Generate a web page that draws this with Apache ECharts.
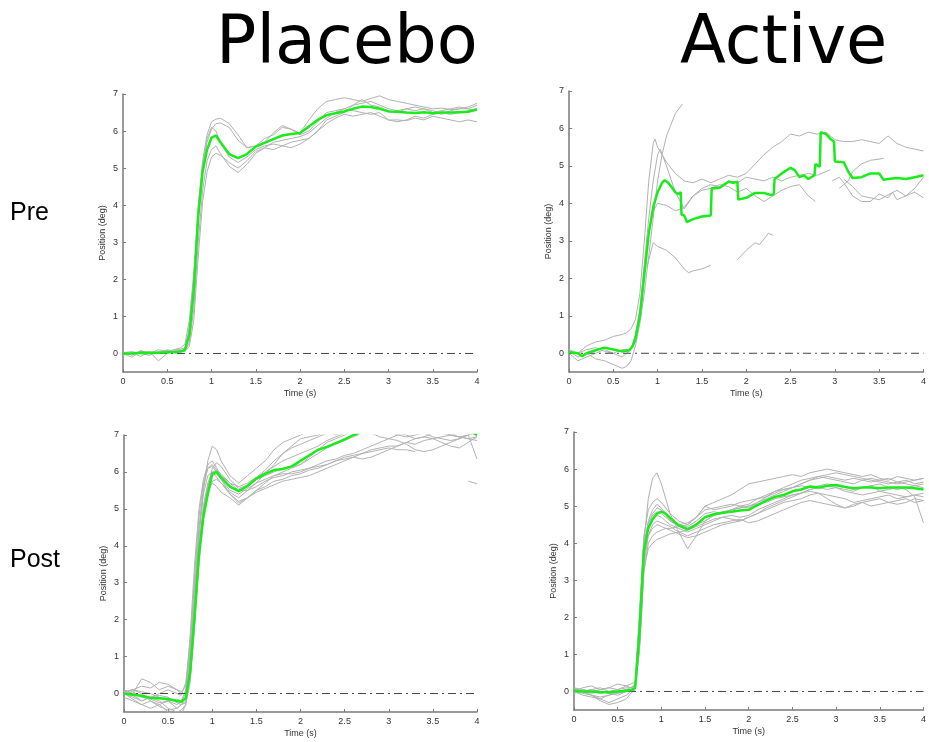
<!DOCTYPE html>
<html><head><meta charset="utf-8">
<script src="https://cdn.jsdelivr.net/npm/echarts@6/dist/echarts.min.js"></script>
<style>html,body{margin:0;padding:0;background:#fff}#c{width:929px;height:742px}</style>
</head><body><div id="c"></div>
<script>
// ---- shared axes ----
const TIME = [0,0.1,0.2,0.3,0.4,0.5,0.6,0.65, 0.7,0.75,0.8,0.85,0.9,0.95,1.0,1.05,1.1, 1.2,1.3,1.4,1.5,1.6,1.7,1.8,1.9,2.0, 2.1,2.2,2.3,2.4,2.5,2.6,2.7,2.8,2.9,3.0, 3.1,3.2,3.3,3.4,3.5,3.6,3.7,3.8,3.9,4.0];
const Y_TICKS = [0,1,2,3,4,5,6,7];
const X_TICKS = [0,0.5,1,1.5,2,2.5,3,3.5,4];
const ZERO_LINE_X = [0,4];
const ZERO_LINE_Y = [0,0];
const COLUMN_TITLES = ['Placebo','Active'];
const ROW_TITLES = ['Pre','Post'];

// ---- Placebo / Pre ----
const PLACEBO_PRE_MEAN = [0.0,0.0,0.02,0.01,0.02,0.03,0.04,0.05, 0.1,0.5,1.7,3.7,4.9,5.5,5.82,5.88,5.7, 5.38,5.27,5.38,5.58,5.68,5.78,5.88,5.92,5.95, 6.12,6.3,6.43,6.48,6.53,6.6,6.66,6.65,6.6,6.53, 6.52,6.5,6.49,6.51,6.48,6.5,6.5,6.51,6.52,6.58];
const PLACEBO_PRE_TRIALS = [
 [0.05,-0.05,0.08,0.0,0.1,0.05,0.12,0.15, 0.25,0.9,2.2,4.0,5.2,5.9,6.25,6.32,6.35, 6.2,5.9,5.55,5.6,5.8,5.9,6.1,6.05,5.95, 6.3,6.6,6.8,6.85,6.9,6.85,6.8,6.88,6.95,6.85, 6.8,6.75,6.7,6.65,6.6,6.62,6.58,6.6,6.65,6.75],
 [-0.05,0.02,-0.08,0.05,-0.2,0.0,0.08,0.05, 0.1,0.6,1.9,3.9,5.1,5.8,6.1,6.0,5.7, 5.3,5.15,5.3,5.5,5.6,5.65,5.6,5.55,5.65, 5.8,6.0,6.2,6.35,6.45,6.4,6.45,6.5,6.4,6.3, 6.3,6.28,6.35,6.3,6.4,6.35,6.3,6.25,6.3,6.25],
 [0.0,-0.1,0.05,0.02,0.0,0.1,0.05,0.08, 0.05,0.3,1.2,3.0,4.4,5.2,5.5,5.6,5.4, 5.05,4.88,5.1,5.4,5.55,5.7,5.75,5.8,5.85, 5.95,6.15,6.35,6.5,6.6,6.55,6.5,6.45,6.5,6.3, 6.25,6.3,6.4,6.35,6.45,6.5,6.45,6.5,6.55,6.6],
 [0.02,0.05,0.0,-0.05,0.05,0.0,0.1,0.12, 0.15,0.7,2.0,3.8,5.0,5.7,6.05,6.2,6.22, 6.1,5.75,5.55,5.6,5.7,5.95,6.15,6.05,5.9, 6.0,6.25,6.5,6.55,6.6,6.7,6.85,6.7,6.65,6.55, 6.5,6.6,6.55,6.6,6.55,6.45,6.55,6.6,6.6,6.55],
 [-0.03,0.0,0.03,0.05,0.02,0.08,0.0,0.1, 0.05,0.2,0.9,2.6,4.1,4.9,5.3,5.4,5.35, 5.15,5.0,5.2,5.45,5.55,5.5,5.6,5.7,5.75, 5.8,6.0,6.3,6.4,6.5,6.7,6.75,6.8,6.7,6.6, 6.55,6.6,6.65,6.6,6.5,6.55,6.6,6.65,6.6,6.7]
];

// ---- Active / Pre (mean is stepwise, trials are fragmentary) ----
const ACTIVE_PRE_MEAN_T = [0,0.1,0.15,0.2,0.3,0.4,0.5,0.6,0.68,0.72,0.75,0.8,0.85,0.9,0.95,1.0,1.05,1.08,1.12,1.17,1.2,1.23,1.26,1.27,1.3,1.33,1.4,1.5,1.6,1.61,1.7,1.8,1.85,1.9,1.91,2.0,2.1,2.2,2.28,2.31,2.32,2.4,2.5,2.55,2.6,2.65,2.7,2.77,2.78,2.83,2.84,2.9,2.95,2.99,3.0,3.1,3.15,3.2,3.3,3.4,3.5,3.55,3.6,3.7,3.8,3.9,4.0];
const ACTIVE_PRE_MEAN_V = [0.03,0.0,-0.08,0.0,0.08,0.15,0.1,0.05,0.08,0.2,0.4,1.0,2.1,3.2,3.9,4.3,4.55,4.62,4.55,4.4,4.3,4.25,4.3,3.7,3.68,3.5,3.58,3.65,3.68,4.4,4.42,4.58,4.55,4.58,4.1,4.15,4.28,4.28,4.22,4.25,4.65,4.8,4.95,4.88,4.7,4.75,4.65,4.75,5.05,4.98,5.9,5.85,5.72,5.65,5.12,5.1,4.85,4.68,4.7,4.8,4.8,4.63,4.65,4.68,4.65,4.7,4.75];
const ACTIVE_PRE_TRIALS = [
 [[0,0.05],[0.1,-0.1],[0.2,0.0],[0.3,-0.15],[0.4,-0.2],[0.5,-0.3],[0.6,-0.4],[0.65,-0.35],[0.7,-0.2],[0.75,0.2],[0.8,0.8],[0.85,1.6],[0.9,2.6],[0.95,3.6],[1.0,4.6],[1.05,5.3],[1.1,5.8],[1.2,6.4],[1.28,6.65]],
 [[0,0.05],[0.1,0.0],[0.2,0.2],[0.3,0.3],[0.4,0.35],[0.5,0.45],[0.6,0.5],[0.65,0.55],[0.7,0.65],[0.75,0.9],[0.8,1.6],[0.85,3.0],[0.9,4.6],[0.95,5.6],[0.97,5.72],[1.0,5.5],[1.05,5.3],[1.1,5.1],[1.2,4.8],[1.3,4.6],[1.4,4.55],[1.5,4.65],[1.6,4.55],[1.7,4.65],[1.8,4.75],[1.9,4.7],[2.0,4.8],[2.1,5.05],[2.2,5.3],[2.3,5.5],[2.4,5.65],[2.5,5.85],[2.6,5.8],[2.7,5.9],[2.8,5.85],[2.9,5.9],[3.0,5.7],[3.1,5.65],[3.2,5.65],[3.3,5.7],[3.4,5.65],[3.5,5.6],[3.6,5.8],[3.7,5.6],[3.8,5.5],[3.9,5.45],[4.0,5.4]],
 [[0,0.0],[0.1,-0.2],[0.2,-0.1],[0.3,0.0],[0.4,0.1],[0.5,0.0],[0.6,-0.1],[0.7,0.1],[0.75,0.5],[0.8,1.2],[0.85,2.4],[0.9,3.6],[0.95,4.6],[1.0,5.3],[1.03,5.45],[1.1,5.0],[1.2,4.3],[1.3,3.85],[1.4,4.2],[1.5,4.35],[1.6,4.4],[1.7,4.5],[1.8,4.45],[1.9,4.3],[2.0,4.4],[2.1,4.2],[2.2,4.05],[2.3,4.2],[2.4,4.35],[2.5,4.45],[2.6,4.5],[2.7,4.2],[2.78,4.05]],
 [[0,0.1],[0.1,0.0],[0.2,0.1],[0.3,0.15],[0.4,0.05],[0.5,0.0],[0.6,0.1],[0.7,0.1],[0.75,0.3],[0.8,1.0],[0.85,2.2],[0.9,3.2],[0.95,3.8],[1.0,4.0],[1.1,3.95],[1.2,3.8],[1.3,3.9],[1.4,4.2],[1.5,4.4],[1.6,4.5],[1.7,4.45],[1.8,4.6],[1.9,4.55],[2.0,4.7],[2.1,4.65],[2.2,4.6],[2.3,4.7],[2.4,4.6],[2.5,4.7],[2.6,4.75],[2.7,4.8],[2.8,4.75],[2.9,4.85],[2.95,4.9]],
 [[0.88,2.3],[0.95,2.95],[1.0,2.85],[1.1,2.75],[1.2,2.55],[1.3,2.25],[1.35,2.15],[1.4,2.2],[1.5,2.25],[1.6,2.35]],
 [[1.9,2.5],[2.0,2.75],[2.1,2.95],[2.15,2.9],[2.2,3.05],[2.25,3.2],[2.3,3.15]],
 [[2.97,4.6],[3.05,4.7],[3.1,4.55],[3.2,4.2],[3.3,4.05],[3.4,4.05],[3.5,4.25],[3.6,4.15],[3.65,4.3],[3.7,4.1],[3.8,4.2],[3.9,4.3],[4.0,4.15]],
 [[3.05,4.4],[3.15,4.6],[3.2,4.85],[3.3,5.05],[3.4,5.15],[3.55,5.2]],
 [[3.1,4.65],[3.2,4.45],[3.3,4.2],[3.5,4.1],[3.7,4.35],[3.8,4.2],[3.9,4.4],[4.0,4.7]]
];

// ---- Placebo / Post ----
const PLACEBO_POST_MEAN = [0.0,-0.03,-0.06,-0.12,-0.13,-0.15,-0.2,-0.22, -0.12,0.6,2.1,3.8,4.8,5.4,5.95,6.0,5.85, 5.6,5.48,5.62,5.82,5.95,6.05,6.08,6.15,6.3, 6.45,6.6,6.68,6.78,6.88,7.0,7.1,7.15,7.2,7.25, 7.25,7.3,7.25,7.2,7.25,7.3,7.25,7.2,7.15,7.0];
const PLACEBO_POST_TRIALS = [
 [0.1,0.0,0.4,0.3,0.1,0.2,0.1,0.0, 0.0,0.8,2.5,4.2,5.5,6.3,6.7,6.6,6.3, 5.9,5.7,5.9,6.1,6.3,6.6,6.8,6.9,7.0, 7.1,7.2,7.3,7.3,7.4,7.3,7.4,7.5,7.4,7.3, 7.2,7.3,7.4,7.3,7.2,7.3,7.4,7.3,7.2,7.3],
 [0.0,-0.1,-0.2,-0.1,0.0,0.1,0.0,-0.05, 0.3,1.4,3.0,4.5,5.6,6.1,6.2,6.05,5.8, 5.5,5.4,5.55,5.7,5.8,5.9,5.95,5.95,6.0, 6.1,6.2,6.3,6.35,6.45,6.5,6.6,6.7,6.8,6.9, 7.0,7.1,7.05,7.1,7.2,7.1,7.0,7.05,7.1,7.0],
 [-0.1,-0.2,-0.3,-0.4,-0.3,-0.5,-0.6,-0.55, -0.3,0.6,2.3,3.9,5.0,5.6,5.9,5.95,5.8, 5.4,5.15,5.3,5.5,5.6,5.75,5.8,5.9,5.95, 6.05,6.1,6.2,6.3,6.4,6.45,6.5,6.6,6.65,6.7, 6.7,6.8,6.75,6.85,6.9,6.95,7.0,6.95,6.9,6.95],
 [0.05,0.1,0.0,-0.2,-0.3,-0.2,-0.4,-0.3, -0.1,1.0,2.8,4.4,5.4,5.9,6.0,5.85,5.7, 5.45,5.3,5.5,5.7,5.95,6.2,6.5,6.7,6.9, 6.95,7.0,7.1,7.0,7.1,7.2,7.1,7.05,6.95,6.9, 6.85,6.75,6.6,6.55,6.6,6.7,6.8,6.9,7.0,6.35],
 [0.0,0.05,-0.1,-0.15,-0.25,-0.2,-0.15,-0.2, 0.0,1.2,3.2,4.8,5.7,6.1,6.15,6.0,5.85, 5.6,5.5,5.6,5.8,5.9,6.0,6.1,6.15,6.2, 6.35,6.5,6.65,6.75,6.85,6.95,7.05,7.1,7.2,7.2, 7.3,7.3,7.2,7.25,7.3,7.3,7.2,7.3,7.3,7.4],
 [0.0,-0.05,-0.2,-0.1,-0.05,-0.1,-0.25,-0.3, -0.2,0.4,1.8,3.5,4.7,5.4,5.75,5.8,5.7, 5.4,5.2,5.3,5.45,5.55,5.65,5.75,5.8,5.85, 5.9,6.0,6.1,6.2,6.3,6.4,6.5,6.55,6.6,6.65, 6.6,6.6,6.55,null,null,null,null,null,5.75,5.68],
 [0.0,0.1,0.05,0.0,-0.1,-0.2,-0.3,-0.2, 0.1,1.6,3.5,5.0,5.8,6.2,6.3,6.1,5.9, 5.7,5.6,5.7,5.85,6.0,6.15,6.3,6.4,6.5, 6.6,6.7,6.85,6.95,7.05,7.1,7.2,7.2,7.25,7.3, 7.2,7.25,7.3,7.2,7.1,7.05,7.0,6.95,6.9,6.85],
 [0.0,0.0,-0.05,-0.1,-0.2,-0.4,-0.5,-0.45, -0.3,0.3,1.9,3.8,5.1,5.7,6.0,6.05,5.95, 5.7,5.5,5.5,5.6,5.75,5.85,5.9,6.0,6.05, 6.1,6.15,6.2,6.3,6.35,6.4,6.35,6.4,6.5,6.6, 6.7,6.8,6.9,6.95,6.9,6.8,6.7,6.65,6.8,6.95],
 [0.05,0.1,0.2,0.15,0.3,0.25,0.1,0.05, 0.2,1.1,2.6,4.0,5.0,5.5,5.7,5.6,5.45, 5.3,5.1,5.3,5.5,5.7,5.9,6.0,6.1,6.2, 6.4,6.6,6.8,6.9,7.0,7.1,7.2,7.15,7.05,7.1, 7.05,7.0,6.9,6.95,7.05,7.1,7.0,6.95,7.0,7.05],
 [0.0,-0.15,-0.3,-0.2,-0.35,-0.45,-0.4,-0.3, -0.25,0.5,2.0,3.6,4.9,5.6,6.1,6.25,6.15, 5.8,5.55,5.65,5.85,6.05,6.3,6.5,6.65,6.75, 6.85,6.95,7.05,7.1,7.05,7.15,7.2,7.3,7.2,7.1, 7.0,6.95,7.0,7.05,6.95,6.9,6.85,6.9,7.0,7.1]
];

// ---- Active / Post ----
const ACTIVE_POST_MEAN = [0.02,0.0,0.0,-0.02,-0.02,0.0,0.02,0.03, 0.1,1.6,3.8,4.4,4.65,4.8,4.85,4.8,4.68, 4.48,4.38,4.5,4.7,4.78,4.82,4.85,4.88,4.9, 5.03,5.15,5.25,5.3,5.4,5.45,5.53,5.5,5.55,5.57, 5.52,5.48,5.5,5.5,5.48,5.5,5.5,5.5,5.48,5.45];
const ACTIVE_POST_TRIALS = [
 [0.1,0.0,-0.1,-0.2,-0.3,-0.2,-0.1,0.0, 0.1,1.8,4.0,5.2,5.75,5.9,5.6,5.2,4.8, 4.3,3.85,4.2,4.6,4.75,4.8,4.9,4.95,5.0, 5.1,5.2,5.3,5.4,5.5,5.55,5.5,5.55,5.6,5.55, 5.5,5.45,5.5,5.55,5.4,5.45,5.5,5.45,5.25,4.55],
 [0.0,0.1,0.15,0.05,0.1,0.2,0.15,0.1, 0.2,2.2,4.2,4.9,5.1,5.2,5.1,4.95,4.8, 4.6,4.5,4.7,5.0,5.1,5.2,5.3,5.45,5.6, 5.65,5.7,5.75,5.8,5.85,5.8,5.9,5.95,6.0,5.95, 5.9,5.85,5.8,5.85,5.75,5.7,5.8,5.75,5.7,5.75],
 [0.05,0.0,0.05,0.1,0.0,-0.05,0.05,0.1, 0.15,1.5,3.8,4.6,4.9,5.05,4.95,4.8,4.65, 4.5,4.45,4.6,4.8,4.85,4.8,4.9,5.0,5.05, 5.2,5.3,5.4,5.45,5.5,5.6,5.7,5.75,5.8,5.75, 5.7,5.75,5.7,5.65,5.7,5.75,5.65,5.7,5.6,5.65],
 [0.0,-0.05,-0.1,-0.25,-0.35,-0.3,-0.2,-0.05, 0.05,1.2,3.5,4.5,4.8,4.95,4.9,4.75,4.6, 4.45,4.35,4.45,4.55,4.65,4.7,4.75,4.7,4.75, 4.9,5.0,5.1,5.2,5.3,5.35,5.45,5.5,5.45,5.5, 5.45,5.4,5.5,5.55,5.6,5.5,5.45,5.5,5.55,5.5],
 [0.0,0.05,0.0,0.05,0.1,0.05,0.15,0.2, 0.25,2.0,4.0,4.55,4.75,4.85,4.8,4.7,4.6, 4.5,4.55,4.7,5.0,4.9,4.95,5.0,5.1,5.15, 5.2,5.25,5.35,5.45,5.5,5.6,5.7,5.8,5.85,5.9, 5.85,5.8,5.75,5.7,5.65,5.6,5.65,5.6,5.55,5.6],
 [0.05,0.0,-0.05,0.0,-0.05,-0.1,0.0,0.05, 0.1,1.6,3.6,4.4,4.65,4.75,4.7,4.6,4.5, 4.4,4.3,4.4,4.5,4.6,4.7,4.65,4.6,4.7, 4.8,4.9,5.0,5.1,5.15,5.2,5.3,5.35,5.3,5.25, 5.2,5.1,5.15,5.2,5.25,5.3,5.2,5.25,5.3,5.25],
 [-0.05,0.0,-0.1,-0.15,-0.1,-0.05,0.0,0.05, 0.1,1.3,3.4,4.2,4.5,4.6,4.55,4.5,4.45, 4.3,4.2,4.3,4.4,4.5,4.55,4.6,4.65,4.55, 4.6,4.7,4.8,4.9,5.0,5.1,5.15,5.1,5.05,5.0, 4.95,5.05,5.1,5.0,5.05,5.1,5.15,5.2,5.1,5.15],
 [0.1,0.05,0.0,-0.05,0.0,0.05,0.1,0.1, 0.15,1.7,3.7,4.2,4.4,4.5,4.45,4.4,4.35, 4.25,4.15,4.2,4.3,4.4,4.5,4.55,4.6,4.7, 4.8,4.95,5.05,5.15,5.25,5.35,5.45,5.5,5.55,5.5, 5.4,5.35,5.3,5.35,5.4,5.35,5.3,5.25,5.3,5.35],
 [0.0,-0.1,-0.15,-0.2,-0.1,0.0,0.05,0.0, 0.05,1.1,3.2,4.0,4.2,4.3,4.35,4.4,4.4, 4.45,4.5,4.7,4.9,4.95,5.0,5.05,5.0,4.95, 5.1,5.25,5.4,5.5,5.6,5.7,5.75,5.8,5.75,5.7, 5.65,5.6,5.7,5.75,5.7,5.65,5.6,5.65,5.7,5.75],
 [0.05,0.0,0.05,0.0,-0.05,0.0,0.05,0.05, 0.1,1.2,3.3,3.85,4.0,4.1,4.15,4.2,4.25, 4.3,4.35,4.5,4.6,4.75,4.85,4.9,4.95,5.0, 5.05,5.1,5.2,5.25,5.3,5.35,5.4,5.35,5.2,5.05, 4.95,5.0,5.1,5.15,5.2,5.1,5.05,5.1,5.2,5.15]
];

// ---- build ----
const pair = (ts, vs) => ts.map((t, i) => [t, vs[i]]);
const GRIDS = [
  {left:123, top:94, width:354, height:278},
  {left:569, top:91, width:357, height:281},
  {left:124, top:435, width:353, height:277},
  {left:574, top:432, width:353, height:278}
];
const panels = [
  {trials: PLACEBO_PRE_TRIALS.map(v => pair(TIME, v)), mean: pair(TIME, PLACEBO_PRE_MEAN)},
  {trials: ACTIVE_PRE_TRIALS, mean: pair(ACTIVE_PRE_MEAN_T, ACTIVE_PRE_MEAN_V)},
  {trials: PLACEBO_POST_TRIALS.map(v => pair(TIME, v)), mean: pair(TIME, PLACEBO_POST_MEAN)},
  {trials: ACTIVE_POST_TRIALS.map(v => pair(TIME, v)), mean: pair(TIME, ACTIVE_POST_MEAN)}
];
const AX = '#7a7a7a', TXT = '#333';
const FONT = 'Liberation Sans';
const xAxis = [], yAxis = [], series = [];
GRIDS.forEach((g, k) => {
  xAxis.push({type:'value', gridIndex:k, min:0, max:4,
    axisLine:{show:true, onZero:false, lineStyle:{color:AX, width:1.5}},
    axisTick:{show:true, inside:true, length:3, customValues:X_TICKS, lineStyle:{color:AX}},
    axisLabel:{customValues:X_TICKS, fontSize:9, color:TXT, fontFamily:FONT, margin:5},
    splitLine:{show:false},
    name:'Time (s)', nameLocation:'middle', nameGap:17,
    nameTextStyle:{fontSize:9, color:TXT, fontFamily:FONT}});
  yAxis.push({type:'value', gridIndex:k, min:-0.5, max:7,
    axisLine:{show:true, lineStyle:{color:AX, width:1.5}},
    axisTick:{show:true, inside:true, length:3, customValues:Y_TICKS, lineStyle:{color:AX}},
    axisLabel:{customValues:Y_TICKS, fontSize:9, color:TXT, fontFamily:FONT, margin:5},
    splitLine:{show:false},
    name:'Position (deg)', nameLocation:'middle', nameGap:16,
    nameTextStyle:{fontSize:9, color:TXT, fontFamily:FONT}});
  panels[k].trials.forEach(d => series.push({type:'line', xAxisIndex:k, yAxisIndex:k, data:d,
    symbol:'none', connectNulls:false, silent:true, z:2,
    lineStyle:{color:'#b2b2b2', width:1}}));
  series.push({type:'line', xAxisIndex:k, yAxisIndex:k, data:pair(ZERO_LINE_X, ZERO_LINE_Y),
    symbol:'none', silent:true, z:3, lineStyle:{color:'#444', width:1, type:[8,4,2,4]}});
  series.push({type:'line', xAxisIndex:k, yAxisIndex:k, data:panels[k].mean,
    symbol:'none', silent:true, z:4, lineStyle:{color:'#1aeb1a', width:2.5}});
});

const chart = echarts.init(document.getElementById('c'), null, {renderer:'canvas'});
chart.setOption({
  animation:false,
  backgroundColor:'#fff',
  title:[
    {text:COLUMN_TITLES[0], left:216, top:12, padding:0, textStyle:{fontFamily:'DejaVu Sans', fontSize:67, fontWeight:'normal', color:'#000'}},
    {text:COLUMN_TITLES[1], left:680, top:12, padding:0, textStyle:{fontFamily:'DejaVu Sans', fontSize:67, fontWeight:'normal', color:'#000'}},
    {text:ROW_TITLES[0], left:10, top:201, padding:0, textStyle:{fontFamily:FONT, fontSize:25, fontWeight:'normal', color:'#000'}},
    {text:ROW_TITLES[1], left:10, top:548, padding:0, textStyle:{fontFamily:FONT, fontSize:25, fontWeight:'normal', color:'#000'}}
  ],
  grid:GRIDS,
  xAxis, yAxis, series
});
</script></body></html>
